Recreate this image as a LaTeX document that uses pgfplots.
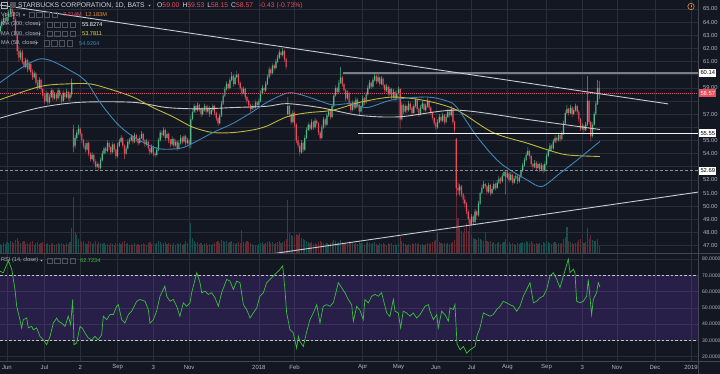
\documentclass[border=0pt]{standalone}
\usepackage{pgfplots}
\pgfplotsset{compat=1.18}
\usepackage{pgfplotstable}
\usepackage{fontspec}
\setmainfont{Liberation Sans}
\definecolor{bg}{HTML}{131722}
\definecolor{gridc}{HTML}{2A2E39}
\definecolor{sep}{HTML}{434651}
\definecolor{txt}{HTML}{B2B5BE}
\definecolor{titc}{HTML}{D1D4DC}
\definecolor{upc}{HTML}{53B987}
\definecolor{dnc}{HTML}{EB4D5C}
\definecolor{volup}{HTML}{1A4F50}
\definecolor{voldn}{HTML}{632A34}
\definecolor{maA}{HTML}{C8C8C8}
\definecolor{maB}{HTML}{BDB83A}
\definecolor{maBt}{HTML}{E6E23A}
\definecolor{maC}{HTML}{3E86B8}
\definecolor{trend}{HTML}{C9CCD4}
\definecolor{lvl}{HTML}{8C8F99}
\definecolor{rsic}{HTML}{3CC03C}
\definecolor{rsiband}{HTML}{7B3FE0}
\definecolor{icoc}{HTML}{50535E}
\definecolor{orng}{HTML}{E8913A}

\pgfplotstableread{
i o h l c v
-4 63.3 63.9 63.1 63.7 9
-3 63.7 64.2 63.5 64.0 8
-2 64.0 64.5 63.8 64.3 10
-1 64.3 64.7 63.9 64.1 9
0 64.1 64.6 63.8 64.4 11
1 64.4 64.9 64.1 64.6 10
2 64.6 65.1 64.4 65.0 12
3 65.0 65.1 64.5 64.7 11
4 64.7 64.9 64.0 64.2 10
5 64.2 64.4 62.9 63.1 13
6 63.0 63.2 61.5 61.8 15
7 61.8 62.2 61.0 61.3 12
8 61.3 61.9 61.1 61.7 10
9 61.7 61.9 60.8 61.0 11
10 61.0 61.3 60.4 60.6 12
11 60.6 61.3 60.5 61.1 9
12 61.1 61.2 60.2 60.4 10
13 60.4 61.0 60.3 60.8 9
14 60.8 60.9 60.0 60.2 11
15 60.2 60.4 59.6 59.8 12
16 59.8 60.3 59.7 60.1 8
17 60.1 60.2 59.2 59.4 10
18 59.4 59.6 58.8 59.0 11
19 59.0 59.8 58.9 59.6 9
20 59.6 59.7 58.7 58.9 10
21 58.9 59.0 58.2 58.4 11
22 58.4 58.6 57.8 58.0 10
23 58.0 58.8 57.9 58.6 9
24 58.6 58.7 57.7 57.9 10
25 57.9 58.5 57.8 58.3 8
26 58.3 59.0 58.2 58.8 9
27 58.8 58.9 58.0 58.2 10
28 58.2 58.7 58.1 58.5 8
29 58.5 58.6 58.0 58.2 9
30 58.2 59.0 58.1 58.8 10
31 58.8 58.9 58.2 58.4 9
32 58.4 58.5 57.8 58.0 10
33 58.0 58.8 57.9 58.6 9
34 58.6 58.7 58.1 58.3 8
35 58.3 58.9 58.2 58.7 10
36 58.7 58.8 58.0 58.2 9
37 58.2 58.7 58.0 58.5 11
38 58.5 59.7 58.3 59.4 25
39 55.9 56.2 54.1 54.5 56
40 54.6 55.4 54.4 55.2 21
41 55.2 55.8 55.0 55.6 18
42 55.6 56.2 55.4 55.9 14
43 55.9 56.0 55.3 55.5 12
44 55.5 55.6 54.8 55.0 11
45 55.0 55.1 54.4 54.6 12
46 54.6 54.8 54.1 54.3 10
47 54.3 55.0 54.2 54.8 9
48 54.8 54.9 53.8 54.0 12
49 54.0 54.1 53.4 53.6 11
50 53.6 54.1 53.5 53.9 9
51 53.9 54.0 53.2 53.4 10
52 53.4 53.6 52.8 53.0 12
53 53.0 53.4 52.9 53.2 9
54 53.2 53.3 52.7 52.9 11
55 52.9 53.7 52.8 53.5 10
56 53.5 54.2 53.4 54.0 9
57 54.0 54.6 53.9 54.4 10
58 54.4 54.5 54.0 54.2 8
59 54.2 55.0 54.1 54.8 9
60 54.8 54.9 54.3 54.5 8
61 54.5 54.6 53.9 54.1 10
62 54.1 54.9 54.0 54.7 9
63 54.7 54.8 54.1 54.3 8
64 54.3 54.4 53.6 53.8 10
65 53.8 54.8 53.7 54.6 9
66 54.6 55.1 54.5 54.9 10
67 54.9 55.4 54.8 55.2 9
68 55.2 55.3 54.4 54.6 11
69 54.6 54.7 53.6 54.0 12
70 54.0 54.6 53.9 54.4 9
71 54.4 55.1 54.3 54.9 10
72 54.9 55.2 54.7 55.0 8
73 55.0 55.5 54.9 55.3 9
74 55.3 55.4 54.7 54.9 8
75 54.9 55.6 54.8 55.4 10
76 55.4 55.5 54.9 55.1 8
77 55.1 55.2 54.6 54.8 9
78 54.8 55.4 54.7 55.2 8
79 55.2 55.7 55.1 55.5 9
80 55.5 55.6 54.8 55.0 10
81 55.0 55.1 54.5 54.7 9
82 54.7 55.1 54.6 54.9 8
83 54.9 55.0 54.2 54.4 10
84 54.4 54.5 53.9 54.1 11
85 54.1 54.7 54.0 54.5 9
86 54.5 54.6 53.8 54.0 10
87 54.0 54.1 53.7 53.9 9
88 53.9 54.5 53.8 54.3 10
89 54.3 55.2 54.2 55.0 12
90 55.0 55.8 54.9 55.6 11
91 55.6 55.7 55.2 55.4 9
92 55.4 56.0 55.3 55.8 10
93 55.8 55.9 55.0 55.2 11
94 55.2 55.7 55.1 55.5 9
95 55.5 55.6 54.8 55.0 10
96 55.0 55.1 54.5 54.7 9
97 54.7 55.3 54.6 55.1 8
98 55.1 55.2 54.4 54.6 10
99 54.6 55.1 54.5 54.9 8
100 54.9 55.0 54.2 54.4 10
101 54.4 55.0 54.3 54.8 9
102 54.8 55.4 54.7 55.2 10
103 55.2 55.3 54.7 54.9 8
104 54.9 55.5 54.8 55.3 9
105 55.3 55.4 54.6 54.8 12
106 54.8 55.2 54.7 55.0 10
107 55.0 55.1 54.4 54.7 14
108 54.7 56.9 54.4 56.6 30
109 56.6 57.4 56.5 57.2 15
110 57.2 57.8 57.1 57.6 12
111 57.6 57.7 57.1 57.3 10
112 57.3 57.9 57.2 57.7 11
113 57.7 57.8 57.2 57.4 9
114 57.4 57.5 56.8 57.0 10
115 57.0 57.5 56.9 57.3 8
116 57.3 57.8 57.2 57.6 9
117 57.6 57.7 57.0 57.2 10
118 57.2 57.7 57.1 57.5 8
119 57.5 57.6 56.8 57.0 9
120 57.0 57.5 56.9 57.3 8
121 57.3 57.8 57.2 57.6 9
122 57.6 57.7 56.9 57.1 10
123 57.1 57.2 56.5 56.7 11
124 56.7 56.8 56.1 56.3 12
125 56.3 57.1 56.2 56.9 10
126 56.9 58.0 56.8 57.8 13
127 57.8 58.6 57.7 58.4 12
128 58.4 59.1 58.3 58.9 11
129 58.9 59.5 58.8 59.3 12
130 59.3 59.4 58.8 59.0 10
131 59.0 59.8 58.9 59.6 11
132 59.6 60.2 59.5 59.9 12
133 59.9 60.0 59.1 59.3 10
134 59.3 60.0 59.2 59.8 9
135 59.8 60.3 59.7 60.0 10
136 60.0 60.1 59.2 59.4 11
137 59.4 59.5 58.8 59.0 10
138 59.0 59.1 58.4 58.6 23
139 58.6 59.1 58.5 58.9 11
140 58.9 59.0 58.1 58.3 10
141 58.3 58.4 57.8 58.0 12
142 58.0 58.1 57.5 57.7 11
143 57.7 57.8 57.2 57.4 10
144 57.4 57.8 57.3 57.6 9
145 57.6 57.7 57.3 57.5 7
146 57.5 58.1 57.4 57.9 8
147 57.9 58.0 57.5 57.7 7
148 57.7 58.2 57.6 58.0 9
149 58.0 58.8 57.9 58.6 10
150 58.6 59.2 58.5 59.0 11
151 59.0 59.1 58.6 58.8 9
152 58.8 59.5 58.7 59.3 10
153 59.3 60.0 59.2 59.8 11
154 59.8 60.6 59.7 60.4 12
155 60.4 60.5 59.9 60.1 10
156 60.1 60.9 60.0 60.7 11
157 60.7 60.8 60.3 60.5 9
158 60.5 61.2 60.4 61.0 10
159 61.0 61.5 60.9 61.3 11
160 61.3 61.9 61.2 61.7 12
161 61.7 61.8 61.3 61.5 10
162 61.5 62.0 61.4 61.8 11
163 61.8 61.9 61.0 61.2 12
164 61.2 61.3 60.4 60.6 14
165 57.0 58.3 56.9 57.6 53
166 57.6 57.7 56.8 57.0 20
167 57.0 57.1 56.2 56.4 18
168 56.4 57.3 56.3 57.1 17
169 57.1 57.2 56.0 56.2 16
170 56.2 56.3 54.8 55.0 19
171 55.0 55.3 54.4 54.6 18
172 54.6 54.8 53.8 54.1 20
173 54.1 55.0 54.0 54.8 15
174 54.8 54.9 54.1 54.3 14
175 54.3 55.4 54.2 55.2 13
176 55.2 56.0 55.1 55.8 12
177 55.8 56.4 55.7 56.2 11
178 56.2 56.3 55.7 55.9 10
179 55.9 56.6 55.8 56.4 11
180 56.4 56.5 55.8 56.0 9
181 56.0 56.7 55.9 56.5 10
182 56.5 56.6 56.1 56.3 9
183 56.3 56.4 55.4 55.6 11
184 55.6 55.7 55.0 55.2 12
185 55.2 56.2 55.1 56.0 11
186 56.0 56.8 55.9 56.6 10
187 56.6 56.7 56.0 56.2 9
188 56.2 57.1 56.1 56.9 10
189 56.9 57.4 56.8 57.2 9
190 57.2 57.3 56.6 56.8 10
191 56.8 57.8 56.7 57.6 11
192 57.6 58.6 57.5 58.4 13
193 58.4 59.2 58.3 59.0 12
194 59.0 59.1 58.5 58.7 10
195 58.7 59.6 58.6 59.4 11
196 59.4 60.6 59.3 59.8 13
197 59.8 59.9 59.1 59.3 11
198 59.3 59.4 58.6 58.8 10
199 58.8 58.9 58.0 58.2 11
200 58.2 58.8 58.1 58.6 9
201 58.6 58.7 57.6 57.8 12
202 57.8 57.9 57.1 57.3 11
203 57.3 58.1 57.2 57.9 10
204 57.9 58.0 57.3 57.5 9
205 57.5 58.3 57.4 58.1 10
206 58.1 58.2 57.5 57.7 9
207 57.7 57.8 56.9 57.2 11
208 57.2 57.8 57.1 57.6 10
209 57.6 58.4 57.5 58.2 9
210 58.2 58.3 57.7 57.9 8
211 57.9 58.7 57.8 58.5 10
212 58.5 59.2 58.4 59.0 11
213 59.0 59.6 58.9 59.4 10
214 59.4 59.5 58.9 59.1 9
215 59.1 59.8 59.0 59.6 10
216 59.6 60.1 59.5 59.9 11
217 59.9 60.0 59.3 59.5 9
218 59.5 60.0 59.4 59.8 8
219 59.8 59.9 59.1 59.3 10
220 59.3 59.9 59.2 59.7 9
221 59.7 59.8 59.0 59.2 10
222 59.2 59.3 58.6 58.8 9
223 58.8 59.3 58.7 59.1 8
224 59.1 59.2 58.3 58.5 10
225 58.5 59.1 58.4 58.9 9
226 58.9 59.0 58.1 58.3 10
227 58.3 58.9 58.2 58.7 8
228 58.7 58.8 58.0 58.2 9
229 58.2 58.8 58.1 58.6 8
230 58.6 59.1 58.5 58.9 10
231 58.9 59.0 55.9 56.6 16
232 56.6 57.9 56.5 57.7 12
233 57.7 57.8 57.0 57.2 10
234 57.2 57.8 57.1 57.6 9
235 57.6 57.7 57.1 57.3 8
236 57.3 58.0 57.2 57.8 9
237 57.8 57.9 57.3 57.5 8
238 57.5 57.6 56.9 57.1 10
239 57.1 57.8 57.0 57.6 9
240 57.6 58.3 57.5 58.1 10
241 58.1 58.2 57.2 57.4 9
242 57.4 57.5 56.8 57.0 10
243 57.0 57.7 56.9 57.5 8
244 57.5 58.0 57.4 57.8 9
245 57.8 57.9 57.1 57.3 8
246 57.3 57.8 57.2 57.6 9
247 57.6 58.2 57.5 58.0 10
248 58.0 58.1 57.3 57.5 9
249 57.5 57.6 56.9 57.1 10
250 57.1 57.2 56.5 56.7 11
251 56.7 56.8 56.1 56.3 12
252 56.3 56.4 55.8 56.0 13
253 56.0 56.6 55.9 56.4 20
254 56.4 57.0 56.3 56.8 11
255 56.8 56.9 56.3 56.5 10
256 56.5 57.1 56.4 56.9 9
257 56.9 57.0 56.2 56.4 10
258 56.4 57.0 56.3 56.8 9
259 56.8 57.4 56.7 57.2 10
260 57.2 57.3 56.7 56.9 9
261 56.9 57.6 56.8 57.4 10
262 57.4 57.5 56.2 56.4 11
263 56.4 56.5 55.6 55.8 13
264 55.1 55.2 50.8 51.4 60
265 51.4 51.8 50.9 51.2 35
266 51.2 51.7 50.8 51.5 25
267 51.5 51.6 50.7 50.9 22
268 50.9 51.0 50.2 50.5 20
269 50.5 50.8 49.9 50.2 25
270 50.2 50.3 49.4 49.6 30
271 49.6 49.8 48.7 49.0 22
272 49.0 49.2 48.4 48.6 26
273 48.6 49.4 48.5 49.2 18
274 49.2 49.3 48.6 48.8 15
275 48.8 49.8 48.7 49.6 14
276 49.6 49.7 49.0 49.3 13
277 49.3 50.4 49.2 50.2 15
278 50.2 51.1 50.1 51.0 14
279 51.0 51.6 50.9 51.4 13
280 51.4 51.9 51.3 51.7 12
281 51.7 51.8 51.3 51.5 21
282 51.5 51.6 50.9 51.1 12
283 51.1 51.8 51.0 51.6 11
284 51.6 51.7 50.8 51.0 12
285 51.0 51.5 50.9 51.3 10
286 51.3 51.9 51.2 51.7 11
287 51.7 51.8 51.2 51.4 9
288 51.4 52.0 51.3 51.8 10
289 51.8 52.3 51.7 52.1 11
290 52.1 52.2 51.7 51.9 9
291 51.9 52.5 51.8 52.3 10
292 52.3 52.8 52.2 52.6 11
293 52.6 52.7 50.9 52.2 14
294 52.2 52.7 52.1 52.5 10
295 52.5 52.6 51.8 52.0 11
296 52.0 52.6 51.9 52.4 9
297 52.4 52.5 51.6 51.8 10
298 51.8 52.3 51.7 52.1 9
299 52.1 52.5 52.0 52.3 8
300 52.3 52.4 51.7 51.9 10
301 51.9 52.4 51.8 52.2 9
302 52.2 52.9 52.1 52.7 10
303 52.7 53.3 52.6 53.1 11
304 53.1 53.7 53.0 53.5 10
305 53.5 54.1 53.4 53.9 12
306 53.9 54.5 53.8 54.2 11
307 54.2 54.3 53.6 53.8 10
308 53.8 53.9 53.0 53.2 12
309 53.2 53.3 52.8 53.0 10
310 53.0 53.5 52.9 53.3 9
311 53.3 53.4 52.7 52.9 10
312 52.9 53.4 52.8 53.2 9
313 53.2 53.3 52.6 52.8 10
314 52.8 53.3 52.7 53.1 8
315 53.1 53.2 52.5 52.7 11
316 52.7 53.4 52.6 53.2 10
317 53.2 54.0 53.1 53.8 12
318 53.8 54.4 53.7 54.2 11
319 54.2 54.8 54.1 54.6 10
320 54.6 54.7 54.2 54.4 9
321 54.4 55.1 54.3 54.9 10
322 54.9 55.4 54.8 55.2 11
323 55.2 55.3 54.8 55.0 9
324 55.0 55.6 54.9 55.4 10
325 55.4 55.5 54.9 55.1 9
326 55.1 55.7 55.0 55.5 10
327 55.5 56.5 55.4 56.3 14
328 56.3 57.3 56.2 57.1 16
329 57.1 57.7 57.0 57.4 26
330 57.4 57.5 56.9 57.1 12
331 57.1 57.7 57.0 57.5 11
332 57.5 57.6 56.8 57.0 10
333 57.0 57.5 56.9 57.3 9
334 57.3 57.8 57.2 57.6 10
335 57.6 57.7 57.0 57.2 11
336 57.2 57.3 56.4 56.6 13
337 56.6 56.7 55.7 55.9 14
338 55.9 56.3 55.8 56.1 11
339 56.1 56.2 55.6 55.8 10
340 55.8 56.4 55.7 56.2 11
341 56.2 59.9 56.1 58.0 25
342 58.0 58.1 56.2 56.4 14
343 56.4 56.5 54.9 55.3 18
344 55.3 56.4 55.2 56.2 13
345 56.2 57.2 56.1 57.0 12
346 57.0 58.0 56.9 57.8 12
347 57.8 59.6 57.7 59.0 14
348 59.00 59.53 58.15 58.57 7
}\ohlc

\pgfplotstableread{
i r
-4.1 72.5
-2.2 71.6
0.8 78.9
2.8 73.7
4.7 61.3
5.7 51
7.6 42.8
8.6 37.7
9.6 42.8
11.6 43.8
12.5 37.7
14.5 38.7
15.5 36.6
17.4 37.7
19.4 32.5
21.3 30.4
23.3 27.4
25.3 32.5
27.2 40.7
29.2 43.8
30.2 41.8
32.1 40.7
34.1 38.7
36 44.9
37.4 39.7
38.6 55.2
39.4 27.4
40.9 28.4
42.9 38.7
44.5 37.1
45.8 34.6
47.8 31.5
49.8 30.4
51.7 32.5
53.6 30.4
55.6 33.5
56.6 44.9
58.6 42.8
60.5 45.9
62.5 45.9
64.4 51
65.4 52
67.4 42.8
69.3 40.7
71.3 45.9
73.3 48
76.2 54.1
78.1 55.2
81.1 54.1
83 49
84 40.7
86 42.8
87.9 48
89.9 57.2
91.8 61.3
92.8 63.4
93.8 57.2
95.8 54.1
97.7 55.2
99.7 51
101.6 44.9
103.6 53.1
105.6 51
107.5 53.1
108.5 59.3
109.5 63.4
111.5 71.6
113.4 65.5
114.4 59.3
116.3 60.3
118.3 58.3
120.3 59.3
122.2 56.2
124.2 51
126.1 59.3
129.1 67.5
131 66.5
133 61.3
135 66.5
136.9 65.5
138.9 52
140.8 49
142.8 43.8
144.7 46.9
146.7 49.9
148.6 57.2
150.6 59.3
152.6 65.5
154.5 67.5
157.5 70.6
160.4 73.7
162 75.8
163.3 61.3
164.3 46.9
166.3 36.6
168.2 34.6
170.2 25.3
171.2 32.5
172.1 29.4
174.1 26.3
176.1 35.5
178 42.8
180 46.9
182 52
183.9 40.7
185.8 51
187.8 52
189.8 51
191.7 53.1
193.7 61.3
194.7 65.5
196.6 62.4
198.6 59.3
200.5 55.2
202.5 52
203.5 41.8
205.5 51
207.4 48.5
209.3 42.8
210.3 55.2
212.3 53.1
214.3 57.2
216.2 58.3
218.2 57.2
220.1 59.3
222.1 51
223.1 46.9
225 44.9
227 55.2
228 48
229.9 46.9
231.3 37.7
232.8 48
234.8 46.9
236.8 44.9
238.7 46.9
240.7 43.8
242.7 45.9
245.6 51
247.6 52
248.5 48
250.5 42.8
252.5 45.9
253.4 37.7
255.4 48
257.3 45.9
259.3 41.8
260.3 50
262.2 49
263.2 52
264.4 28
266.2 24.3
268.2 26.3
270.1 22.2
272.1 24.3
275 26.3
276 32.5
277.9 37.7
279.9 46.9
281.8 45.9
283.8 44.9
285.7 45.9
287.7 49
289.7 51
291.6 54.1
293.6 53.1
295.5 52
297.5 51
299.5 48
301.4 51
303.4 57.2
305.3 61.3
307.3 65.5
309.3 53.1
311.2 54.1
313.2 56.2
315.1 57.2
317.1 61.3
319 69.6
321 71.6
323 67.5
324.9 62.4
326.9 69.6
329.8 79.9
330.8 71.6
332.8 73.7
333.7 71.6
334.7 54.1
336.7 53.1
338.6 54.1
340.6 57.2
341.5 67.5
343.5 45.9
344.5 55.2
346.4 59.3
347.4 65.5
348.4 62.7
}\rsi

\newcommand{\tri}[2]{\fill[txt] ({#1-1.4},{#2+0.7}) -- ({#1+1.4},{#2+0.7}) -- ({#1},{#2-0.8}) -- cycle;}
\newcommand{\icons}[2]{\foreach \k in {0,1,2,3}{\draw[icoc, line width=0.4pt] ({#1+\k*7.6},{#2-2.6}) rectangle ++(5.2,5.2);}}

\pgfplotsset{pane/.style={at={(0pt,121pt)}, anchor=south west, scale only axis, width=698pt, height=253pt,
  xmin=-4.11, xmax=406, ymin=46.44, ymax=65.68}}

\begin{document}
\begin{tikzpicture}
\fill[bg] (0pt,0pt) rectangle (720pt,374pt);
\useasboundingbox (0pt,0pt) rectangle (720pt,374pt);

% ---- main pane grid and price scale ----
\begin{axis}[pane, clip=false,
  axis line style={draw=none}, major tick length=0pt,
  xtick={0,22,43,65,86,107,148,169,209,230,252,273,294,317,338,358.4,380.7,401.9}, xticklabels={},
  ytick={47,48,...,65},
  yticklabels={47.00,48.00,49.00,50.00,51.00,52.00,{},54.00,55.00,{},57.00,{},59.00,{},61.00,62.00,63.00,64.00,65.00},
  yticklabel pos=right,
  yticklabel style={font=\fontsize{5.8}{7}\selectfont, text=txt, anchor=west, xshift=1.5pt},
  grid=major, grid style={gridc, line width=0.6pt}]
\end{axis}

% ---- volume ----
\begin{axis}[pane, ymin=0, ymax=253, hide axis]
\addplot[ycomb, volup, line width=1.1pt] table[x=i, y expr={\thisrow{v}*(\thisrow{c}>=\thisrow{o})}] {\ohlc};
\addplot[ycomb, voldn, line width=1.1pt] table[x=i, y expr={\thisrow{v}*(\thisrow{c}<\thisrow{o})}] {\ohlc};
\end{axis}

% ---- wicks (stacked: invisible base up to the low) ----
\begin{axis}[pane, hide axis, ybar stacked, bar width=0.27]
\addplot[draw=none, fill=none] table[x=i, y=l] {\ohlc};
\addplot[draw=none, fill=upc] table[x=i, y expr={(\thisrow{h}-\thisrow{l})*(\thisrow{c}>=\thisrow{o})}] {\ohlc};
\addplot[draw=none, fill=dnc] table[x=i, y expr={(\thisrow{h}-\thisrow{l})*(\thisrow{c}<\thisrow{o})}] {\ohlc};
\end{axis}

% ---- bodies ----
\begin{axis}[pane, hide axis, ybar stacked, bar width=0.7]
\addplot[draw=none, fill=none] table[x=i, y expr={min(\thisrow{o},\thisrow{c})}] {\ohlc};
\addplot[draw=none, fill=upc] table[x=i, y expr={max(\thisrow{c}-\thisrow{o},0)}] {\ohlc};
\addplot[draw=none, fill=dnc] table[x=i, y expr={max(\thisrow{o}-\thisrow{c},0)}] {\ohlc};
\end{axis}

% ---- moving averages and drawings ----
\begin{axis}[pane, hide axis]
\addplot[maA, line width=0.9pt, smooth] coordinates {(-4.1,56.7) (19.4,57.5) (42.9,57.9) (74,57.9) (94,57.5) (113.4,57.4) (132.8,57.5) (152.8,57.6) (164.5,57.8) (183.9,57.5) (207.4,56.9) (231,56.8) (264.4,57.3) (305.5,56.6) (348.4,55.83)};
\addplot[maB, line width=0.9pt, smooth] coordinates {(-4.1,58.1) (19.4,59.1) (35.3,59.3) (48.8,59.3) (60.5,58.9) (74,58.3) (85.8,57.5) (97.5,56.8) (109.3,56.0) (121,55.6) (132.8,55.6) (144.5,55.8) (152.8,56.1) (164.5,56.8) (176.3,57.1) (191.5,57.3) (207.4,57.9) (226.8,58.3) (246.8,58.0) (264.4,57.3) (285.5,55.6) (305.5,54.8) (317.3,54.3) (329,53.9) (348.4,53.78)};
\addplot[maC, line width=0.9pt, smooth] coordinates {(-4.1,59.4) (19.4,61.2) (38.8,60.2) (47,59.4) (54.6,57.9) (64.6,56.3) (74,55.3) (88.1,54.4) (101.6,54.4) (109.3,54.8) (121,55.6) (132.8,56.3) (144.5,57.2) (152.8,57.9) (164.5,58.6) (172.1,58.5) (183.9,58.0) (191.5,57.7) (201.5,57.8) (211.5,57.5) (226.8,58.1) (246.8,58.3) (258.5,58.0) (264.4,57.5) (276.1,55.3) (289.7,53.3) (305.5,52.0) (314.3,51.5) (324.9,52.5) (334.9,53.5) (348.4,54.93)};
\addplot[lvl, line width=1.8pt, opacity=0.85] coordinates {(197.4,60.14) (406,60.14)};
\addplot[white!90!gray, line width=0.9pt] coordinates {(206.2,55.55) (406,55.55)};
\addplot[lvl, line width=1.2pt, dash pattern=on 3pt off 2pt] coordinates {(-4.11,52.69) (406,52.69)};
\addplot[dnc, line width=0.5pt, dash pattern=on 1pt off 1pt] coordinates {(-4.11,58.57) (406,58.57)};
\addplot[trend, line width=0.9pt] coordinates {(-4.11,65.3) (388.4,57.78)};
\addplot[trend, line width=0.9pt] coordinates {(150,46.27) (406,51.07)};
\end{axis}

% ---- RSI ----
\begin{axis}[at={(0pt,13pt)}, anchor=south west, scale only axis, width=698pt, height=107pt,
  xmin=-4.11, xmax=406, ymin=17.4, ymax=83.1,
  axis line style={draw=none}, major tick length=0pt,
  xtick={0,22,43,65,86,107,148,169,209,230,252,273,294,317,338,358.4,380.7,401.9},
  xticklabels={Jun,Jul,2,Sep,3,Nov,2018,Feb,Apr,May,Jun,Jul,Aug,Sep,3,Nov,Dec,2019},
  xticklabel style={font=\fontsize{6}{7}\selectfont, text=txt, anchor=center, yshift=-6pt},
  ytick={20,30,...,80},
  yticklabels={20.0000,30.0000,40.0000,50.0000,60.0000,70.0000,80.0000},
  yticklabel pos=right,
  yticklabel style={font=\fontsize{5.1}{6}\selectfont, text=txt, anchor=west, xshift=0.6pt},
  grid=major, grid style={gridc, line width=0.6pt}]
\fill[rsiband, fill opacity=0.2] (axis cs:-4.11,30) rectangle (axis cs:406,70);
\addplot[txt!80!white, line width=0.6pt, dash pattern=on 2.5pt off 2pt] coordinates {(-4.11,70) (406,70)};
\addplot[txt!80!white, line width=0.6pt, dash pattern=on 2.5pt off 2pt] coordinates {(-4.11,30) (406,30)};
\addplot[rsic, line width=0.7pt] table[x=i, y=r] {\rsi};
\end{axis}

\begin{scope}[x=1pt, y=1pt]
% separators
\draw[sep, line width=1pt] (0,120.5) -- (720,120.5);
\draw[sep, line width=0.7pt] (0,13) -- (720,13);
\draw[sep, line width=0.7pt] (698.5,0) -- (698.5,374);

% price labels
\begin{scope}[every node/.style={font=\fontsize{5.8}{7}\selectfont, inner xsep=1.3pt, inner ysep=0pt, minimum height=8pt, anchor=west}]
\node[fill=white, text=black] at (699,301.15) {60.14};
\node[fill=dnc, text=white] at (699,280.5) {58.57};
\node[fill=white, text=black] at (699,240.8) {55.55};
\node[fill=white, text=black] at (699,203.2) {52.69};
\end{scope}

% legend
\draw[txt, line width=0.5pt] (1.5,365.5) rectangle (7.5,371.5);
\draw[txt, line width=0.5pt] (3,368.5) -- (6,368.5);
\fill[icoc] (10,365.5) rectangle (16,371.5);
\node[anchor=west, inner sep=0, font=\fontsize{6.8}{8}\selectfont, text=titc] at (18,368.5) {STARBUCKS CORPORATION, 1D, BATS};
\tri{149.5}{368.5}
\node[anchor=west, inner sep=0, font=\fontsize{6.8}{8}\selectfont] at (157,368.5) {\textcolor{titc}{O}\textcolor{dnc}{59.00}\hspace{3pt}\textcolor{titc}{H}\textcolor{dnc}{59.53}\hspace{3pt}\textcolor{titc}{L}\textcolor{dnc}{58.15}\hspace{3pt}\textcolor{titc}{C}\textcolor{dnc}{58.57}\hspace{6pt}\textcolor{dnc}{-0.43 (-0.73\%)}};
\begin{scope}[every node/.style={anchor=west, inner sep=0, font=\fontsize{5.6}{7}\selectfont, text=txt}]
\node at (1,359) {Vol (20)}; \tri{24}{359} \icons{29}{359}
\node[text=dnc] at (63,359) {7.214M}; \node[text=orng] at (85,359) {12.183M};
\node at (1,349.5) {MA (200, close)}; \tri{39.5}{349.5} \icons{47}{349.5}
\node[text=white] at (82,349.5) {55.8274};
\node at (1,340) {MA (100, close)}; \tri{39.5}{340} \icons{47}{340}
\node[text=maBt] at (82,340) {53.7811};
\node at (1,330.8) {MA (50, close)}; \tri{36.5}{330.8} \icons{44}{330.8}
\node[text=maC] at (79,330.8) {54.9264};
\node at (1,113.5) {RSI (14, close)}; \tri{41.5}{113.5} \icons{47}{113.5}
\node[text=rsic] at (80,113.5) {62.7234};
\end{scope}
\draw[orng, line width=0.6pt] (691,367.5) circle (3.2);
\draw[orng, line width=0.6pt] (691,369) -- (691,367.2);
\fill[orng] (691,366.1) circle (0.35);
\end{scope}
\end{tikzpicture}
\end{document}
